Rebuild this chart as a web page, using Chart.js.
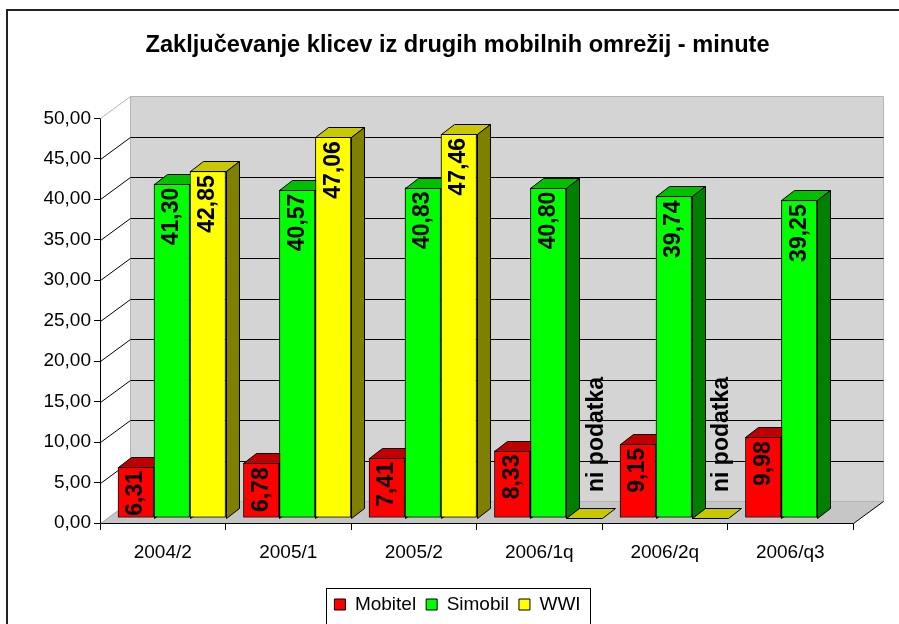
<!DOCTYPE html>
<html>
<head>
<meta charset="utf-8">
<script src="https://cdn.jsdelivr.net/npm/chart.js@4.4.1/dist/chart.umd.min.js"></script>
<style>
  html, body { margin: 0; padding: 0; background: #fff; }
  canvas { display: block; }
</style>
</head>
<body>
<canvas id="counter-barchart" width="899" height="624"></canvas>
<script>
// chart data
var categories = ['2004/2', '2005/1', '2005/2', '2006/1q', '2006/2q', '2006/q3'];
var mobitelValues = [6.31, 6.78, 7.41, 8.33, 9.15, 9.98];
var simobilValues = [41.30, 40.57, 40.83, 40.80, 39.74, 39.25];
var wwiValues = [42.85, 47.06, 47.46, 0, 0, null];
var seriesNames = ['Mobitel', 'Simobil', 'WWI'];
var yMin = 0, yMax = 50, yStep = 5;
var noDataText = 'ni podatka';
var chartTitle = 'Zaključevanje klicev iz drugih mobilnih omrežij - minute';

var FONT = '"Liberation Sans", Arial, sans-serif';

// fake 3d geometry (pixels)
var WALL_DX = 30, WALL_DY = -22;
var SHIFT_X = 9, SHIFT_Y = -5;
var BAR_DX = 13, BAR_DY = -10;
var CENTER_SHIFT = 31; // title + legend sit centred over the whole plot incl. depth

function fmt(v) {
    return v.toFixed(2).replace('.', ',');
}

function poly(ctx, pts, fill, stroke) {
    ctx.beginPath();
    ctx.moveTo(pts[0][0], pts[0][1]);
    for (var i = 1; i < pts.length; i++)
        ctx.lineTo(pts[i][0], pts[i][1]);
    ctx.closePath();
    if (fill) { ctx.fillStyle = fill; ctx.fill(); }
    if (stroke) { ctx.strokeStyle = stroke; ctx.lineWidth = 1; ctx.stroke(); }
}

function line(ctx, x1, y1, x2, y2, color) {
    ctx.beginPath();
    ctx.moveTo(x1, y1);
    ctx.lineTo(x2, y2);
    ctx.strokeStyle = color;
    ctx.lineWidth = 1;
    ctx.stroke();
}

var fake3d = {
    id: 'fake3d',
    afterLayout: function (chart) {
        var boxes = [chart.titleBlock, chart.legend];
        boxes.forEach(function (b) {
            if (!b) return;
            b.left += CENTER_SHIFT;
            b.right += CENTER_SHIFT;
            if (b.legendHitBoxes)
                b.legendHitBoxes.forEach(function (h) { h.left += CENTER_SHIFT; });
        });
    },
    beforeDatasetsDraw: function (chart) {
        var ctx = chart.ctx, a = chart.chartArea, ys = chart.scales.y;
        var L = a.left + 0.5, R = a.right + 0.5, T = Math.round(a.top) + 0.5, B = Math.round(a.bottom) + 0.5;
        ctx.save();
        // floor
        poly(ctx, [[L, B], [R, B], [R + WALL_DX, B + WALL_DY], [L + WALL_DX, B + WALL_DY]], '#c6c6c6', null);
        // back wall
        poly(ctx, [[L + WALL_DX, T + WALL_DY], [R + WALL_DX, T + WALL_DY], [R + WALL_DX, B + WALL_DY], [L + WALL_DX, B + WALL_DY]], '#d4d4d4', '#b4b4b4');
        line(ctx, L, T, L + WALL_DX, T + WALL_DY, '#b4b4b4');
        line(ctx, L, B, L + WALL_DX, B + WALL_DY, '#a8a8a8');
        line(ctx, R, B, R + WALL_DX, B + WALL_DY, '#000');
        line(ctx, L, B, R, B, '#000');
        // gridlines on the walls
        ys.ticks.forEach(function (t) {
            if (t.value <= yMin || t.value >= yMax) return;
            var y = Math.round(ys.getPixelForValue(t.value)) + 0.5;
            line(ctx, L, y, L + WALL_DX, y + WALL_DY, '#000');
            line(ctx, L + WALL_DX, y + WALL_DY, R + WALL_DX, y + WALL_DY, '#000');
        });
        ctx.restore();
        // bars stand a bit behind the front edge
        ctx.save();
        ctx.translate(SHIFT_X, SHIFT_Y);
    },
    afterDatasetsDraw: function (chart) {
        var ctx = chart.ctx;
        var datasets = chart.data.datasets;
        // redraw every bar left to right with its top and side faces (painter's order)
        for (var i = 0; i < categories.length; i++) {
            for (var di = 0; di < datasets.length; di++) {
                var ds = datasets[di];
                var v = ds.data[i];
                if (v === null || v === undefined) continue;
                var bar = chart.getDatasetMeta(di).data[i];
                bar.draw(ctx);
                var p = bar.getProps(['x', 'y', 'base', 'width'], true);
                var x1 = Math.round(p.x - p.width / 2) + 0.5, x2 = Math.round(p.x + p.width / 2) + 0.5;
                var top = Math.round(Math.min(p.y, p.base)) + 0.5, base = Math.round(p.base) + 0.5;
                poly(ctx, [[x1, top], [x2, top], [x2 + BAR_DX, top + BAR_DY], [x1 + BAR_DX, top + BAR_DY]], ds.topColor, '#000');
                if (base - top > 0)
                    poly(ctx, [[x2, top], [x2 + BAR_DX, top + BAR_DY], [x2 + BAR_DX, base + BAR_DY], [x2, base]], ds.sideColor, '#000');
            }
        }
        // value labels
        ctx.font = 'bold 23px ' + FONT;
        ctx.fillStyle = '#000';
        ctx.textBaseline = 'middle';
        datasets.forEach(function (ds, di) {
            var meta = chart.getDatasetMeta(di);
            meta.data.forEach(function (bar, i) {
                var v = ds.data[i];
                if (v === null || v === undefined) return;
                var p = bar.getProps(['x', 'y', 'base'], true);
                ctx.save();
                if (v > 0) {
                    ctx.translate(p.x, Math.min(p.y, p.base) + 4);
                    ctx.rotate(-Math.PI / 2);
                    ctx.textAlign = 'right';
                    ctx.fillText(fmt(v), 0, 0);
                } else {
                    ctx.translate(p.x + 12, p.base - 26);
                    ctx.rotate(-Math.PI / 2);
                    ctx.textAlign = 'left';
                    ctx.fillText(noDataText, 0, 0);
                }
                ctx.restore();
            });
        });
        ctx.restore();
    },
    afterDraw: function (chart) {
        var ctx = chart.ctx;
        ctx.save();
        // legend frame
        var hb = chart.legend.legendHitBoxes;
        if (hb && hb.length) {
            var last = hb[hb.length - 1];
            var lx = Math.round(hb[0].left - 8) + 0.5;
            var rx = Math.round(last.left + last.width + 9) + 0.5;
            var ty = Math.round(hb[0].top - 7) + 0.5;
            ctx.strokeStyle = '#000';
            ctx.lineWidth = 1;
            ctx.strokeRect(lx, ty, rx - lx, 60);
        }
        // outer frame
        ctx.strokeStyle = '#222';
        ctx.lineWidth = 2;
        ctx.beginPath();
        ctx.moveTo(7, 630);
        ctx.lineTo(7, 10);
        ctx.lineTo(905, 10);
        ctx.stroke();
        ctx.restore();
    }
};

function BuildChart() {
    var ctx = document.getElementById('counter-barchart');
    return new Chart(ctx, {
        type: 'bar',
        data: {
            labels: categories,
            datasets: [{
                label: seriesNames[0],
                data: mobitelValues,
                backgroundColor: '#ff0000',
                topColor: '#c00000',
                sideColor: '#800000'
            }, {
                label: seriesNames[1],
                data: simobilValues,
                backgroundColor: '#00ff00',
                topColor: '#00c000',
                sideColor: '#008000'
            }, {
                label: seriesNames[2],
                data: wwiValues,
                backgroundColor: '#ffff00',
                topColor: '#c8c800',
                sideColor: '#808000'
            }]
        },
        options: {
            responsive: false,
            animation: false,
            devicePixelRatio: 1,
            layout: { padding: { left: 0, right: 46, top: 0, bottom: 0 } },
            datasets: {
                bar: {
                    borderColor: '#000',
                    borderWidth: 1,
                    borderSkipped: false,
                    categoryPercentage: 0.86,
                    barPercentage: 1
                }
            },
            scales: {
                x: {
                    grid: { offset: true, drawOnChartArea: false, tickLength: 7, color: '#000' },
                    border: { color: '#000' },
                    ticks: { color: '#000', font: { family: FONT, size: 19 }, padding: 11, maxRotation: 0 },
                    afterFit: function (s) { s.height = 62; }
                },
                y: {
                    min: yMin,
                    max: yMax,
                    grid: { drawOnChartArea: false, tickLength: 6, color: '#000' },
                    border: { color: '#000' },
                    ticks: {
                        stepSize: yStep,
                        color: '#000',
                        font: { family: FONT, size: 19 },
                        padding: 3,
                        callback: function (v) { return fmt(v); }
                    },
                    afterFit: function (s) { s.width = 100; }
                }
            },
            plugins: {
                title: {
                    display: true,
                    text: chartTitle,
                    color: '#000',
                    font: { family: FONT, size: 23.6, weight: 'bold' },
                    padding: { top: 31, bottom: 59 }
                },
                legend: {
                    position: 'bottom',
                    labels: {
                        color: '#000',
                        font: { family: FONT, size: 19 },
                        boxWidth: 11,
                        boxHeight: 11,
                        padding: 10
                    }
                },
                tooltip: { enabled: false }
            }
        },
        plugins: [fake3d]
    });
}

BuildChart();
</script>
</body>
</html>
